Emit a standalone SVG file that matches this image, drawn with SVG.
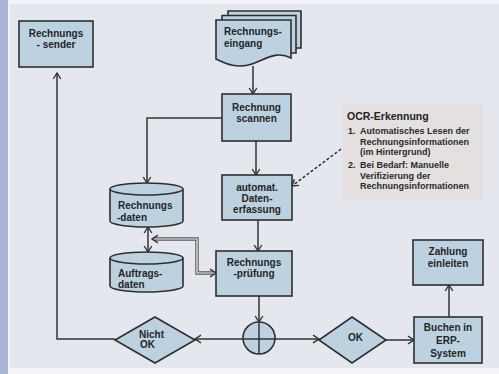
<svg xmlns="http://www.w3.org/2000/svg" width="499" height="374" viewBox="0 0 499 374">
  <style>
    .box { fill: #bcd2e0; stroke: #2e2e2e; stroke-width: 1.6; }
    .t { font-family: "Liberation Sans", Arial, sans-serif; font-weight: bold; font-size: 10px; fill: #252525; }
    .c { text-anchor: middle; }
    .ln { fill: none; stroke: #333; stroke-width: 1.5; }
    .ocr { font-family: "Liberation Sans", Arial, sans-serif; font-weight: bold; font-size: 9px; fill: #2a2a2a; }
  </style>
  <defs>
    <marker id="arr" viewBox="-8 -5 10 10" markerWidth="10" markerHeight="10" refX="0" refY="0" orient="auto-start-reverse" markerUnits="userSpaceOnUse">
      <path d="M-6,-3.8 L0,0 L-6,3.8" fill="none" stroke="#333" stroke-width="1.4"/>
    </marker>
  </defs>

  <!-- background -->
  <rect x="0" y="0" width="499" height="374" fill="#f3f4f7"/>
  <rect x="0" y="0" width="8" height="374" fill="#a8b5d4"/>
  <rect x="10" y="4" width="489" height="364" fill="#e4e8ee"/>

  <!-- connectors -->
  <g id="connectors">
    <line class="ln" x1="253" y1="66" x2="253" y2="94" marker-end="url(#arr)"/>
    <polyline class="ln" points="222,118 147,118 147,183" marker-end="url(#arr)"/>
    <line class="ln" x1="256" y1="141" x2="256" y2="175" marker-end="url(#arr)"/>
    <line class="ln" x1="341" y1="149" x2="292" y2="186" stroke-dasharray="3,2" marker-end="url(#arr)"/>
    <line class="ln" x1="258" y1="220" x2="258" y2="251" marker-end="url(#arr)"/>
    <line class="ln" x1="148" y1="227" x2="148" y2="252" marker-start="url(#arr)" marker-end="url(#arr)"/>
    <polyline points="153,239 197,239 197,273 214,273" fill="none" stroke="#555" stroke-width="3.4"/>
    <polyline points="153,239 197,239 197,273 214,273" fill="none" stroke="#f4f4f4" stroke-width="1.2"/>
    <line x1="152" y1="239" x2="153" y2="239" class="ln" stroke-width="0.1" marker-start="url(#arr)"/>
    <line x1="215" y1="273" x2="216" y2="273" class="ln" stroke-width="0.1" marker-end="url(#arr)"/>
    <line class="ln" x1="259" y1="296" x2="259" y2="322" marker-end="url(#arr)"/>
    <line class="ln" x1="195" y1="339" x2="319" y2="339" marker-start="url(#arr)" marker-end="url(#arr)"/>
    <polyline class="ln" points="115,339 57,339 57,73" marker-end="url(#arr)"/>
    <line class="ln" x1="386" y1="340" x2="414" y2="340" marker-end="url(#arr)"/>
    <line class="ln" x1="449" y1="317" x2="449" y2="285" marker-end="url(#arr)"/>
  </g>

  <g id="rechnungssender">
    <rect class="box" x="19" y="21" width="74" height="46"/>
    <text class="t c" x="56" y="37">Rechnungs</text>
    <text class="t c" x="56" y="48">- sender</text>
  </g>

  <g id="rechnungseingang">
    <path class="box" d="M228,11 H301 V48 H228 Z"/>
    <path class="box" d="M222,15.5 H296 V53 H222 Z"/>
    <path class="box" d="M216,20 H291 V58 C276,50 264,60 252,64 C238,69 226,64 216,59 Z"/>
    <text class="t" x="224" y="35">Rechnungs-</text>
    <text class="t" x="224" y="47">eingang</text>
  </g>

  <g id="scannen">
    <rect class="box" x="222" y="94" width="69" height="47"/>
    <text class="t c" x="256.5" y="111">Rechnung</text>
    <text class="t c" x="256.5" y="122">scannen</text>
  </g>

  <g id="ocr">
    <rect x="342" y="104" width="141" height="96" fill="#e3e0df"/>
    <text x="347" y="120" font-family="'Liberation Sans', Arial, sans-serif" font-weight="bold" font-size="10.5" fill="#222">OCR-Erkennung</text>
    <text class="ocr" x="348" y="134">1.</text>
    <text class="ocr" x="360" y="134">Automatisches Lesen der</text>
    <text class="ocr" x="360" y="144.5">Rechnungsinformationen</text>
    <text class="ocr" x="360" y="155">(im Hintergrund)</text>
    <text class="ocr" x="348" y="168">2.</text>
    <text class="ocr" x="360" y="168">Bei Bedarf: Manuelle</text>
    <text class="ocr" x="360" y="178.5">Verifizierung der</text>
    <text class="ocr" x="360" y="189">Rechnungsinformationen</text>
  </g>

  <g id="datenerfassung">
    <rect class="box" x="222" y="175" width="70" height="45"/>
    <text class="t c" x="257" y="191">automat.</text>
    <text class="t c" x="257" y="202">Daten-</text>
    <text class="t c" x="257" y="213">erfassung</text>
  </g>

  <g id="rechnungsdaten">
    <path class="box" d="M110,189 A36.5,6 0 0 1 183,189 V221 A36.5,6 0 0 1 110,221 Z"/>
    <path d="M110,189 A36.5,6 0 0 0 183,189" fill="none" stroke="#2e2e2e" stroke-width="1.6"/>
    <text class="t" x="118" y="209">Rechnungs</text>
    <text class="t" x="117" y="221">-daten</text>
  </g>

  <g id="auftragsdaten">
    <path class="box" d="M110,258 A36.5,6 0 0 1 183,258 V286 A36.5,6 0 0 1 110,286 Z"/>
    <path d="M110,258 A36.5,6 0 0 0 183,258" fill="none" stroke="#2e2e2e" stroke-width="1.6"/>
    <text class="t" x="118" y="277">Auftrags-</text>
    <text class="t" x="118" y="288">daten</text>
  </g>

  <g id="pruefung">
    <rect class="box" x="216" y="251" width="76" height="45"/>
    <text class="t c" x="254" y="266">Rechnungs</text>
    <text class="t c" x="254" y="277">-prüfung</text>
  </g>

  <g id="verzweigung">
    <circle class="box" cx="259" cy="338" r="16"/>
    <line class="ln" x1="259" y1="322" x2="259" y2="354"/>
    <line class="ln" x1="243" y1="339" x2="275" y2="339"/>
  </g>

  <g id="nichtok">
    <polygon class="box" points="155,317 195,340 155,363 115,340"/>
    <text class="t" x="139" y="338" font-size="8.5">Nicht</text>
    <text class="t" x="140" y="348" font-size="8.5">OK</text>
  </g>

  <g id="ok">
    <polygon class="box" points="352,317 386,340 352,363 319,340"/>
    <text class="t" x="348" y="341">OK</text>
  </g>

  <g id="buchen">
    <rect class="box" x="414" y="317" width="68" height="46"/>
    <text class="t c" x="448" y="331" font-size="11">Buchen in</text>
    <text class="t c" x="448" y="344" font-size="11">ERP-</text>
    <text class="t c" x="448" y="357" font-size="11">System</text>
  </g>

  <g id="zahlung">
    <rect class="box" x="413" y="240" width="70" height="45"/>
    <text class="t c" x="448" y="255">Zahlung</text>
    <text class="t c" x="448" y="267">einleiten</text>
  </g>
</svg>
